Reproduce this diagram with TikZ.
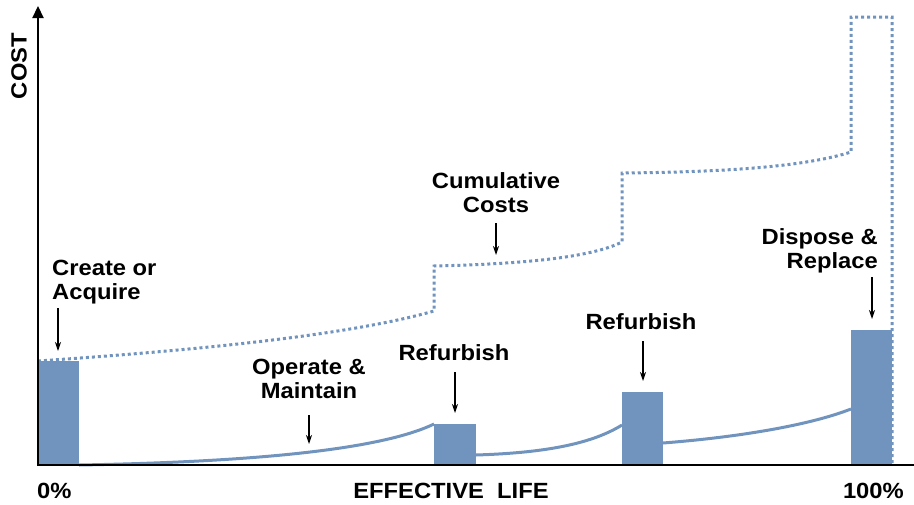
\documentclass[tikz,border=0pt]{standalone}
\usepackage{fontspec}
\setmainfont{Liberation Sans}[FakeStretch=1.08]
\usetikzlibrary{arrows.meta}
\definecolor{barblue}{HTML}{7094BE}
\tikzset{
  lbl/.style={font=\fontsize{22}{24}\selectfont\bfseries, inner sep=0pt, align=center},
  bar/.style={fill=barblue, draw=none},
  om/.style={draw=barblue, line width=3pt},
  cum/.style={draw=barblue, line width=3pt, dash pattern=on 3pt off 3pt},
  ptr/.style={-{Stealth[length=9pt,width=6pt]}, line width=1.1pt, black},
  axis/.style={line width=2.2pt, black}
}
\begin{document}
\begin{tikzpicture}[x=1pt,y=-1pt]
\useasboundingbox (0,0) rectangle (914,504);
% bars
\fill[bar] (38,361) rectangle (79,465);
\fill[bar] (434,424) rectangle (476,465);
\fill[bar] (622,392) rectangle (663,465);
\fill[bar] (851,330) rectangle (892,465);
% operate & maintain curves
\draw[om] (79,465) .. controls (250,462) and (380,450) .. (434,424);
\draw[om] (476,455) .. controls (540,453) and (590,445) .. (622,425);
\draw[om] (663,443) .. controls (740,437) and (810,425) .. (851,409);
% cumulative costs
\draw[cum] (38,361) .. controls (200,350) and (350,335) .. (434,311)
  -- (434,266) .. controls (520,264) and (590,258) .. (622,242)
  -- (622,173) .. controls (740,172) and (810,165) .. (851,152)
  -- (851,17) -- (892,17) -- (892,465);
% axes
\draw[axis] (38,465) -- (914,465);
\draw[axis, -{Triangle[length=12pt,width=11pt]}] (38,466) -- (38,6);
% labels
\node[lbl, rotate=90] (cost) at (19,66) {COST};
\node[lbl, align=left, anchor=north west] (create) at (52,260) {Create or\\Acquire};
\coordinate (createA) at (58,308);
\coordinate (createB) at (58,351);
\draw[ptr] (createA) -- (createB);
\node[lbl, anchor=north] (cumul) at (496,172) {Cumulative\\Costs};
\coordinate (cumA) at (496,223);
\coordinate (cumB) at (496,255);
\draw[ptr] (cumA) -- (cumB);
\node[lbl, anchor=north] (operate) at (309,359) {Operate \&\\Maintain};
\coordinate (opA) at (309,415);
\coordinate (opB) at (309,444);
\draw[ptr] (opA) -- (opB);
\node[lbl, anchor=north] (ref1) at (454,344) {Refurbish};
\coordinate (r1A) at (455,372);
\coordinate (r1B) at (455,413);
\draw[ptr] (r1A) -- (r1B);
\node[lbl, anchor=north] (ref2) at (641,313) {Refurbish};
\coordinate (r2A) at (643,341);
\coordinate (r2B) at (643,381);
\draw[ptr] (r2A) -- (r2B);
\node[lbl, align=right, anchor=north east] (dispose) at (878,228) {Dispose \&\\Replace};
\coordinate (dA) at (872,277);
\coordinate (dB) at (872,319);
\draw[ptr] (dA) -- (dB);
\node[lbl, anchor=north west] (zero) at (37,483) {0\%};
\node[lbl, anchor=north] (eff) at (451,483) {EFFECTIVE\ \ LIFE};
\node[lbl, anchor=north east] (hundred) at (904,483) {100\%};
\end{tikzpicture}
\end{document}
